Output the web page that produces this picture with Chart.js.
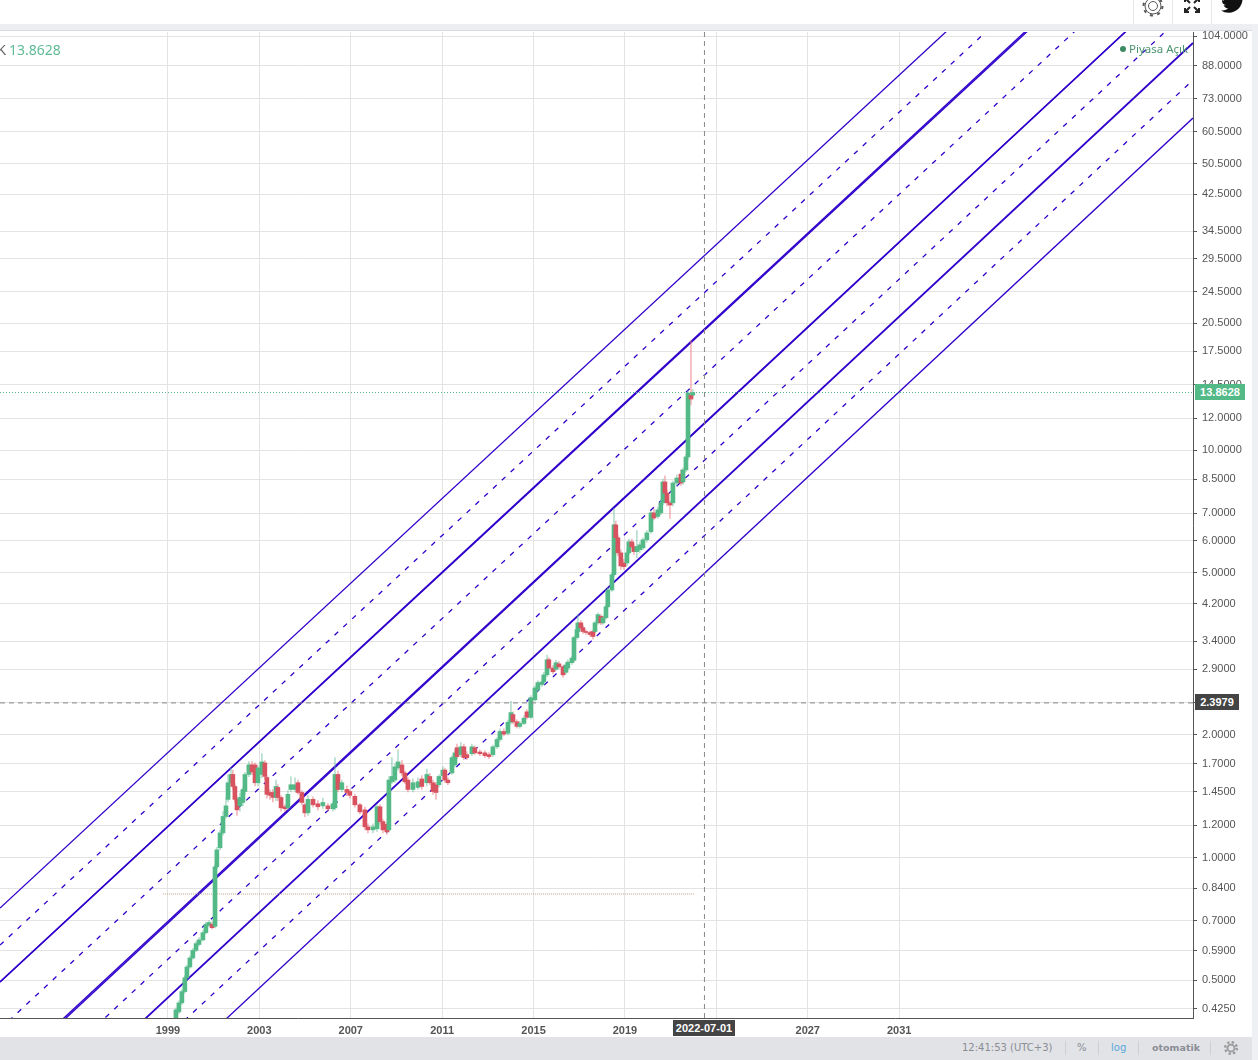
<!DOCTYPE html>
<html><head><meta charset="utf-8">
<style>
html,body{margin:0;padding:0;background:#fff;width:1258px;height:1060px;overflow:hidden;font-family:"Liberation Sans",Arial,sans-serif}
#c{position:absolute;left:0;top:0}
.a{position:absolute;white-space:nowrap}
.tag{color:#fff;font:bold 11px/16px "Liberation Sans",Arial,sans-serif;text-align:center;height:16px}
.foot{color:#8a8d94;font:10px/14px "DejaVu Sans",sans-serif;top:1041px}
.sep{width:1px;background:#cfd1d6}
</style></head><body>
<canvas id="c" width="1258" height="1060"></canvas>
<div class="a" style="left:0;top:24px;width:1258px;height:6px;background:#eceef1;border-bottom:1px solid #d8dade"></div>
<div class="a" style="left:1252px;top:24px;width:6px;height:1036px;background:#eef0f3"></div>
<div class="a" style="left:0;top:1037px;width:1252px;height:23px;background:#e2e3e7"></div>
<div class="a sep" style="left:1133px;top:0;height:24px;background:#e6e7ea"></div>
<div class="a sep" style="left:1172px;top:0;height:24px;background:#e6e7ea"></div>
<div class="a sep" style="left:1211px;top:0;height:24px;background:#e6e7ea"></div>
<svg class="a" style="left:1141px;top:-6px" width="24" height="24" viewBox="0 0 24 24"><circle cx="12" cy="12" r="4.5" fill="none" stroke="#555" stroke-width="1"/><circle cx="12" cy="12" r="8" fill="none" stroke="#555" stroke-width="1"/><circle cx="12" cy="12" r="9.5" fill="none" stroke="#555" stroke-width="2" stroke-dasharray="3 4.45"/></svg>
<svg class="a" style="left:1183px;top:-4px" width="18" height="18" viewBox="0 0 18 18" fill="none" stroke="#222" stroke-width="2"><path d="M2 2l5 5M16 2l-5 5M2 16l5-5M16 16l-5-5"/><path d="M2 6V2h4M12 2h4v4M2 12v4h4M16 12v4h-4" stroke-width="2"/></svg>
<svg class="a" style="left:1221px;top:-9px" width="24" height="24" viewBox="0 0 24 24"><path fill="#111" d="M23.95 4.57a10 10 0 0 1-2.82.78 4.96 4.96 0 0 0 2.16-2.72 9.9 9.9 0 0 1-3.13 1.19 4.92 4.92 0 0 0-8.38 4.48A13.98 13.98 0 0 1 1.64 3.16a4.92 4.92 0 0 0 1.52 6.57 4.9 4.9 0 0 1-2.23-.61v.06a4.92 4.92 0 0 0 3.95 4.83 4.9 4.9 0 0 1-2.21.08 4.94 4.94 0 0 0 4.6 3.42A9.87 9.87 0 0 1 0 19.54a13.94 13.94 0 0 0 7.55 2.21c9.06 0 14-7.5 14-13.98 0-.21 0-.42-.02-.63A9.94 9.94 0 0 0 24 4.59z"/></svg>
<div class="a" style="left:-3px;top:41px;font:14px/18px 'Liberation Sans',Arial,sans-serif;color:#666">K</div>
<div class="a" style="left:9px;top:41px;font:14px/18px 'Noto Sans',sans-serif;color:#5fbb96">13.8628</div>
<div class="a" style="left:1120px;top:46px;width:6px;height:6px;border-radius:3px;background:#3d8a63"></div>
<div class="a" style="left:1129px;top:42px;font:11.5px/14px 'Noto Sans',sans-serif;color:#4b9470">Piyasa Açık</div>
<div class="a tag" style="left:1195px;top:384px;width:50px;background:#53b987">13.8628</div>
<div class="a tag" style="left:1195px;top:694px;width:44px;background:#444">2.3979</div>
<div class="a tag" style="left:673px;top:1020px;width:62px;background:#444">2022-07-01</div>
<div class="a foot" style="left:962px">12:41:53 (UTC+3)</div>
<div class="a sep" style="left:1065px;top:1041px;height:14px"></div>
<div class="a foot" style="left:1077px">%</div>
<div class="a sep" style="left:1098px;top:1041px;height:14px"></div>
<div class="a foot" style="left:1111px;color:#5aa7d8">log</div>
<div class="a sep" style="left:1138px;top:1041px;height:14px"></div>
<div class="a foot" style="left:1152px;font-weight:bold;font-size:9.5px">otomatik</div>
<div class="a sep" style="left:1210px;top:1041px;height:14px"></div>
<svg class="a" style="left:1224px;top:1041px" width="14" height="14" viewBox="0 0 24 24"><circle cx="12" cy="12" r="6" fill="none" stroke="#999" stroke-width="3"/><circle cx="12" cy="12" r="10" fill="none" stroke="#999" stroke-width="4" stroke-dasharray="4 3.85"/></svg>
<script src="https://cdn.jsdelivr.net/npm/chart.js@4/dist/chart.umd.min.js"></script>
<script>
const xMin = 1991.65, xMax = 2043.86, yMin = 0.4039, yMax = 106.38;
const priceTicks = [104,88,73,60.5,50.5,42.5,34.5,29.5,24.5,20.5,17.5,14.5,12,10,8.5,7,6,5,4.2,3.4,2.9,2.4,2,1.7,1.45,1.2,1,0.84,0.7,0.59,0.5,0.425];
const yearTicks = [1999,2003,2007,2011,2015,2019,2023,2027,2031];

const years = [
1999.35,1999.48,1999.61,1999.74,1999.83,1999.96,2000.09,2000.23,2000.36,2000.53,
2000.66,2000.79,2000.93,2001.06,2001.14,2001.28,2001.41,2001.54,2001.63,2001.76,
2001.84,2001.93,2002.02,2002.15,2002.28,2002.37,2002.54,2002.68,2002.81,2002.94,
2003.11,2003.24,2003.33,2003.46,2003.59,2003.73,2003.81,2003.95,2004.12,2004.25,
2004.38,2004.56,2004.69,2004.86,2004.99,2005.13,2005.35,2005.56,2005.78,2006.00,
2006.22,2006.31,2006.44,2006.61,2006.83,2006.96,2007.18,2007.40,2007.62,2007.75,
2007.97,2008.15,2008.28,2008.41,2008.58,2008.67,2008.80,2008.93,2009.07,2009.24,
2009.37,2009.50,2009.72,2009.94,2010.11,2010.33,2010.46,2010.60,2010.73,2010.86,
2011.03,2011.12,2011.25,2011.43,2011.56,2011.65,2011.82,2011.95,2012.08,2012.30,
2012.43,2012.65,2012.87,2013.05,2013.22,2013.40,2013.53,2013.70,2013.88,2014.01,
2014.10,2014.27,2014.40,2014.58,2014.71,2014.88,2015.06,2015.19,2015.37,2015.45,
2015.59,2015.67,2015.85,2015.98,2016.11,2016.29,2016.42,2016.50,2016.68,2016.77,
2016.90,2016.94,2017.07,2017.16,2017.29,2017.47,2017.60,2017.69,2017.82,2017.95,
2018.04,2018.17,2018.25,2018.43,2018.52,2018.60,2018.69,2018.82,2018.95,2019.09,
2019.17,2019.30,2019.39,2019.52,2019.65,2019.79,2019.96,2020.14,2020.27,2020.44,
2020.57,2020.66,2020.75,2020.84,2020.97,2021.10,2021.27,2021.45,2021.54,2021.67,
2021.76,2021.89,2021.97];
const opens = [
.395,.418,.440,.469,.507,.539,.567,.592,.612,.628,
.654,.682,.686,.678,.949,1.057,1.15,1.262,1.39,1.527,
1.60,1.495,1.39,1.34,1.366,1.453,1.60,1.689,1.689,1.527,
1.60,1.708,1.573,1.445,1.445,1.405,1.487,1.405,1.333,1.325,
1.47,1.47,1.527,1.445,1.348,1.288,1.39,1.356,1.34,1.34,
1.318,1.325,1.60,1.47,1.47,1.453,1.414,1.348,1.31,1.19,
1.17,1.177,1.333,1.226,1.207,1.17,1.535,1.55,1.66,1.689,
1.614,1.55,1.47,1.487,1.56,1.527,1.582,1.527,1.51,1.51,
1.59,1.64,1.55,1.614,1.689,1.861,1.79,1.871,1.79,1.799,
1.861,1.817,1.808,1.79,1.79,1.871,1.95,2.04,2.02,2.15,
2.245,2.155,2.10,2.135,2.28,2.21,2.44,2.58,2.66,2.70,
2.81,3.06,2.92,2.90,2.99,2.94,2.85,2.92,3.01,3.05,
3.47,3.59,3.77,3.67,3.59,3.57,3.59,3.59,3.77,3.91,
3.77,3.88,4.13,4.54,4.95,6.56,6.10,5.60,5.29,5.29,
5.60,5.96,5.80,5.64,5.70,5.76,6.03,6.31,7.02,6.88,
7.02,7.43,8.36,7.85,7.43,7.43,8.31,8.74,8.36,8.95,
9.63,13.66,13.66];
const closes = [
.423,.440,.469,.507,.539,.567,.592,.615,.628,.654,
.686,.693,.673,.949,1.045,1.15,1.262,1.34,1.527,1.60,
1.495,1.39,1.31,1.405,1.47,1.60,1.689,1.623,1.527,1.66,
1.718,1.582,1.43,1.422,1.405,1.495,1.405,1.325,1.318,1.43,
1.51,1.51,1.445,1.366,1.288,1.39,1.348,1.333,1.366,1.318,
1.356,1.60,1.47,1.527,1.445,1.422,1.348,1.295,1.19,1.17,
1.19,1.333,1.226,1.17,1.157,1.55,1.582,1.67,1.718,1.614,
1.535,1.47,1.527,1.535,1.495,1.60,1.527,1.453,1.445,1.582,
1.64,1.55,1.527,1.76,1.808,1.77,1.871,1.76,1.76,1.871,
1.808,1.799,1.78,1.77,1.871,1.95,2.04,2.01,2.15,2.27,
2.155,2.10,2.135,2.20,2.21,2.47,2.61,2.69,2.70,2.81,
3.06,2.92,2.86,3.01,2.94,2.81,2.97,3.02,3.09,3.47,
3.63,3.77,3.67,3.59,3.57,3.53,3.49,3.77,3.95,3.77,
3.88,4.13,4.54,4.95,6.56,6.10,5.60,5.20,5.18,5.60,
5.96,5.80,5.64,5.80,5.86,6.03,6.27,7.02,6.82,7.14,
7.43,8.36,7.85,7.43,7.34,8.31,8.55,8.31,8.95,9.63,
13.82,13.36,13.8628];
const highs = [
.428,.445,.475,.513,.545,.574,.599,.622,.636,.662,
.694,.70,.695,.96,1.06,1.17,1.30,1.40,1.60,1.66,
1.64,1.52,1.41,1.44,1.49,1.62,1.72,1.72,1.71,1.68,
1.80,1.73,1.59,1.47,1.47,1.55,1.51,1.42,1.35,1.46,
1.58,1.57,1.55,1.46,1.36,1.42,1.41,1.38,1.40,1.36,
1.37,1.76,1.63,1.55,1.50,1.47,1.43,1.36,1.33,1.21,
1.21,1.35,1.35,1.24,1.22,1.58,1.76,1.70,1.84,1.73,
1.63,1.57,1.56,1.57,1.59,1.65,1.61,1.55,1.53,1.60,
1.67,1.66,1.57,1.78,1.84,1.90,1.92,1.90,1.82,1.90,
1.88,1.84,1.83,1.81,1.89,1.97,2.07,2.07,2.18,2.42,
2.28,2.18,2.16,2.23,2.31,2.50,2.64,2.72,2.74,2.85,
3.14,3.10,2.96,3.05,3.03,2.97,3.00,3.06,3.12,3.50,
3.66,3.95,3.82,3.71,3.62,3.60,3.62,3.80,3.99,3.95,
3.92,4.17,4.60,5.00,7.20,6.70,6.20,5.70,5.40,5.70,
6.05,6.05,5.90,6.35,5.95,6.10,6.35,7.10,7.15,7.25,
7.55,8.50,8.65,7.95,7.50,8.40,8.70,8.95,9.05,9.75,
14.0,18.6,14.1];
const lows = [
.392,.414,.436,.465,.503,.535,.563,.588,.607,.624,
.65,.677,.668,.672,.94,1.045,1.135,1.25,1.37,1.51,
1.47,1.37,1.27,1.30,1.34,1.43,1.58,1.60,1.50,1.50,
1.57,1.56,1.40,1.39,1.37,1.38,1.38,1.30,1.30,1.31,
1.45,1.45,1.43,1.35,1.26,1.27,1.33,1.31,1.32,1.30,
1.30,1.31,1.45,1.45,1.42,1.40,1.33,1.28,1.17,1.15,
1.15,1.16,1.21,1.15,1.14,1.155,1.52,1.53,1.64,1.59,
1.52,1.45,1.45,1.47,1.47,1.50,1.51,1.43,1.39,1.49,
1.57,1.53,1.51,1.60,1.67,1.75,1.77,1.74,1.74,1.78,
1.79,1.78,1.76,1.75,1.77,1.85,1.93,1.99,2.00,2.13,
2.13,2.08,2.08,2.12,2.19,2.19,2.42,2.56,2.63,2.68,
2.78,2.90,2.83,2.88,2.91,2.77,2.82,2.90,2.98,3.03,
3.44,3.56,3.64,3.55,3.53,3.49,3.44,3.56,3.74,3.73,
3.74,3.85,4.10,4.50,4.90,6.00,5.50,5.10,5.10,5.20,
5.55,5.75,5.55,5.45,5.60,5.70,5.95,6.25,6.75,6.80,
6.95,7.35,7.75,7.30,6.80,7.30,8.20,8.20,8.25,8.85,
9.5,12.92,13.5];

const channelYears = [1991.65, 2043.86];
const channelA  = [0.752, 388.2];
const channelB  = [0.610, 314.9];
const channelC1 = [0.495, 256.9];
const channelC2 = [0.495, 254.0];
const channelD  = [0.3796, 198.6];
const channelE1 = [0.2887, 151.9];
const channelE2 = [0.2855, 151.9];
const channelF  = [0.2328, 123.3];
const channelG  = [0.1873, 99.97];
const channelH  = [0.1506, 81.1];
const channelI  = [0.1221, 65.4];

const lastPrice = 13.8628;
const crossPrice = 2.3979;
const crossYear = 2022.48;
const flatLineYears = [1998.78, 2022.06];
const flatLinePrice = 0.814;

const BLUE = '#3000cc';
function channel(vals, width, dash){
  return {type:'line', order:3, data:channelYears.map((x,i)=>({x,y:vals[i]})),
    borderColor:BLUE, borderWidth:width, borderDash:dash||[], pointRadius:0, fill:false, tension:0};
}
function guide(pts, color, dash, order, width){
  return {type:'line', order, data:pts, borderColor:color, borderWidth:width||1, borderDash:dash, pointRadius:0, fill:false, tension:0};
}
const up = i => closes[i] >= opens[i];
const datasets = [
  channel(channelA,1.3), channel(channelB,1.3,[5,7]),
  channel(channelC1,1.4), channel(channelC2,1.4), channel(channelD,1.3,[5,7]),
  channel(channelE1,1.4), channel(channelE2,1.4), channel(channelF,1.3,[5,7]),
  channel(channelG,1.8), channel(channelH,1.3,[5,7]), channel(channelI,1.3),
  guide(flatLineYears.map(x=>({x,y:flatLinePrice})),'#b9a083',[1,1],2),
  {type:'bar', order:2, grouped:false, barThickness:1, borderWidth:0,
   data:years.map((x,i)=>({x,y:[lows[i],highs[i]]})),
   backgroundColor:years.map((_,i)=>up(i)?'rgba(110,190,155,.5)':'rgba(235,120,130,.55)')},
  {type:'bar', order:1, grouped:false, barThickness:4, borderWidth:0,
   data:years.map((x,i)=>({x,y:[Math.min(opens[i],closes[i]),Math.max(opens[i],closes[i])]})),
   backgroundColor:years.map((_,i)=>up(i)?'#53b987':'#d9525f')},
  guide([{x:xMin,y:lastPrice},{x:xMax,y:lastPrice}],'#53b987',[1,2],0),
  guide([{x:xMin,y:crossPrice},{x:xMax,y:crossPrice}],'#888',[5,4],0),
  guide([{x:crossYear,y:yMin},{x:crossYear,y:yMax}],'#888',[5,4],0)
];
new Chart(document.getElementById('c'),{
  type:'bar',
  data:{datasets},
  options:{
    responsive:false, animation:false, events:[],
    layout:{padding:{top:32,left:0,right:0,bottom:0}},
    plugins:{legend:{display:false},tooltip:{enabled:false}},
    scales:{
      x:{type:'linear',min:xMin,max:xMax,bounds:'data',offset:false,
        grid:{offset:false,color:'#e3e3e3',lineWidth:1,drawTicks:false},
        border:{color:'#555',width:1},
        afterBuildTicks:s=>{s.ticks=yearTicks.map(v=>({value:v}));},
        afterFit:s=>{s.height=42;},
        ticks:{autoSkip:false,maxRotation:0,padding:6,color:'#555',font:{family:'"Liberation Sans",Arial,sans-serif',size:11,weight:'bold'},callback:v=>String(v)}},
      y:{type:'logarithmic',position:'right',min:yMin,max:yMax,bounds:'data',
        grid:{color:'#e3e3e3',lineWidth:1,tickColor:'#555',tickLength:4},
        border:{color:'#555',width:1},
        afterBuildTicks:s=>{s.ticks=priceTicks.map(v=>({value:v}));},
        afterFit:s=>{s.width=65;},
        ticks:{autoSkip:false,padding:5,color:'#555',font:{family:'"Liberation Sans",Arial,sans-serif',size:11},callback:v=>Number(v).toFixed(4)}}
    }
  }
});
</script>
</body></html>
